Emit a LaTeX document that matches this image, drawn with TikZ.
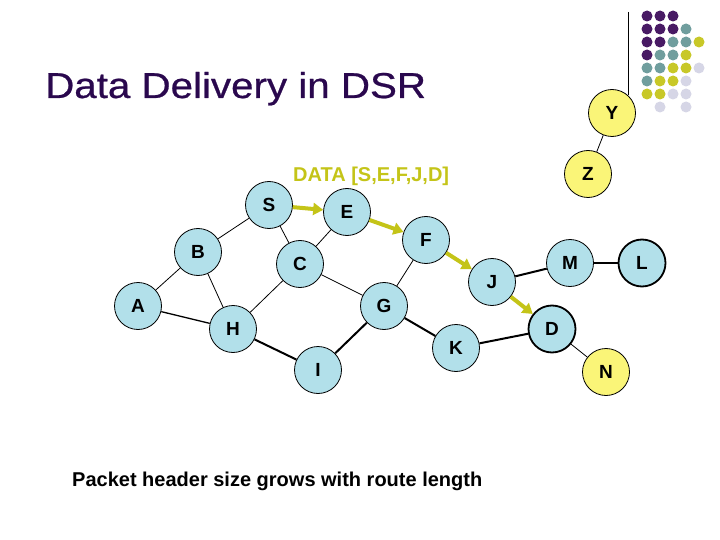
\documentclass[tikz,border=0pt]{standalone}
\usepackage{fontspec}
\setmainfont{Liberation Sans}
\newfontfamily\titlefont{Liberation Sans}[FakeBold=0.6]
\usetikzlibrary{arrows.meta}
\definecolor{nodeblue}{RGB}{178,224,234}
\definecolor{nodeyel}{RGB}{250,245,120}
\definecolor{arrowyel}{RGB}{196,196,24}
\definecolor{titlepurple}{RGB}{42,8,78}
\definecolor{dotP}{RGB}{72,26,100}
\definecolor{dotT}{RGB}{112,158,158}
\definecolor{dotY}{RGB}{200,200,40}
\definecolor{dotL}{RGB}{214,214,230}
\begin{document}
\begin{tikzpicture}[x=1pt,y=-1pt,
  netnode/.style={circle,draw=black,line width=0.8pt,fill=nodeblue,minimum size=47pt,inner sep=0pt,font=\fontsize{19}{19}\selectfont\bfseries},
  ynode/.style={netnode,fill=nodeyel},
  boldnode/.style={line width=1.8pt},
  link/.style={line width=0.8pt},
  wide/.style={line width=2pt},
  route/.style={draw=arrowyel,line width=4pt,-{Triangle[length=10pt,width=12pt]}},
  dot/.style={circle,inner sep=0pt,minimum size=11pt}
]
\useasboundingbox (0,0) rectangle (720,540);
\fill[white] (0,0) rectangle (720,540);

% decoration
\draw[line width=0.8pt] (628,12) -- (628,95);
\foreach \r/\row in {0/{P,P,P,N,N},1/{P,P,P,T,N},2/{P,P,T,T,Y},3/{P,T,T,Y,N},4/{T,T,Y,Y,L},5/{T,Y,Y,L,N},6/{Y,Y,L,L,N},7/{N,L,N,L,N}}{
  \foreach \c [count=\i from 0] in \row {
    \if N\c\else
      \fill[dot\c] (647+13*\i,16+13*\r) circle (5.5);
    \fi
  }
}

% title
\node[anchor=base west,text=titlepurple,inner sep=0pt] (title) at (45,98) {\scalebox{1.12}[1]{\titlefont\fontsize{36}{40}\selectfont Data Delivery in DSR}};

% nodes
\node[ynode] (Y) at (612,113) {Y};
\node[ynode] (Z) at (588,174) {Z};
\node[netnode] (S) at (269,205) {S};
\node[netnode] (E) at (347,212) {E};
\node[netnode] (F) at (426,240) {F};
\node[netnode] (B) at (198,252) {B};
\node[netnode] (C) at (300,264) {C};
\node[netnode] (J) at (492,282) {J};
\node[netnode] (M) at (570,263) {M};
\node[netnode,boldnode] (L) at (642,263) {L};
\node[netnode] (A) at (138,306) {A};
\node[netnode] (G) at (384,306) {G};
\node[netnode] (H) at (233,329) {H};
\node[netnode,boldnode] (D) at (552,329) {D};
\node[netnode] (K) at (456,348) {K};
\node[netnode] (I) at (318,370) {I};
\node[ynode] (N) at (606,372) {N};

% links
\draw[link] (Y) -- (Z);
\draw[link] (S) -- (B);
\draw[link] (S) -- (C);
\draw[link] (E) -- (C);
\draw[link] (A) -- (B);
\draw[link] (B) -- (H);
\draw[link] (C) -- (H);
\draw[link] (C) -- (G);
\draw[link] (G) -- (F);
\draw[link] (D) -- (N);
\draw[line width=1.3pt] (A) -- (H);
\draw[wide] (H) -- (I);
\draw[wide] (I) -- (G);
\draw[wide] (G) -- (K);
\draw[wide] (K) -- (D);
\draw[wide] (J) -- (M);
\draw[wide] (M) -- (L);

% route
\draw[route] (S) -- (E);
\draw[route] (E) -- (F);
\draw[route] (F) -- (J);
\draw[route] (J) -- (D);

% labels
\node[anchor=base west,inner sep=0pt,text=arrowyel,font=\fontsize{20}{24}\selectfont\bfseries] (data) at (293,182) {DATA [S,E,F,J,D]};
\node[anchor=base west,inner sep=0pt,font=\fontsize{20}{24}\selectfont\bfseries] (note) at (72,486) {Packet header size grows with route length};
\end{tikzpicture}
\end{document}
